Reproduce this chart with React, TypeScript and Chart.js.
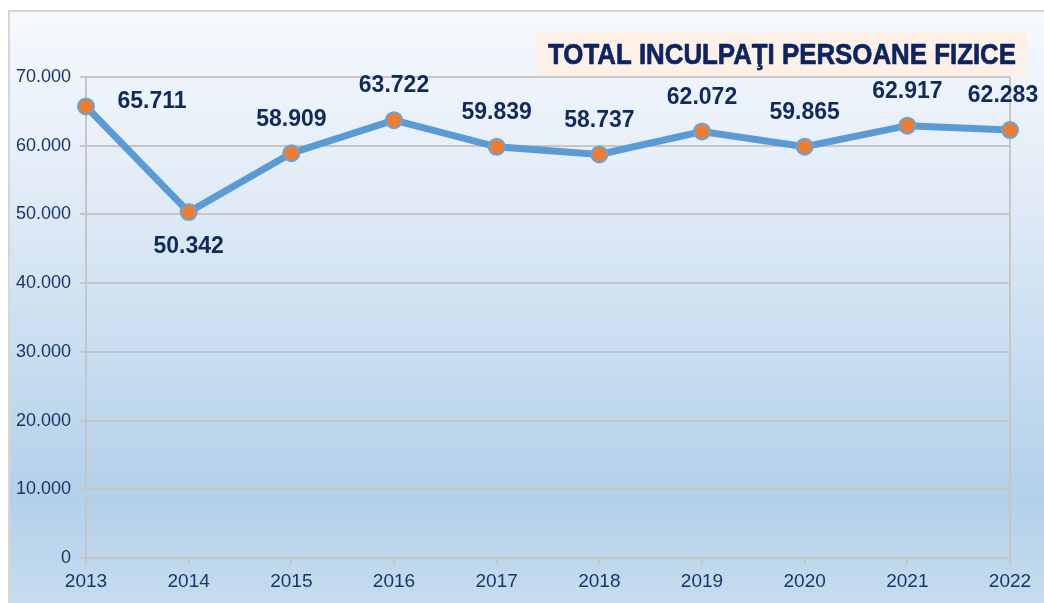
import React, { useEffect, useRef } from "react";
import { Chart, registerables } from "chart.js";

Chart.register(...registerables);

const years = ["2013", "2014", "2015", "2016", "2017", "2018", "2019", "2020", "2021", "2022"];
const inculpati = [65711, 50342, 58909, 63722, 59839, 58737, 62072, 59865, 62917, 62283];
const valueLabels = ["65.711", "50.342", "58.909", "63.722", "59.839", "58.737", "62.072", "59.865", "62.917", "62.283"];
const titleText = "TOTAL INCULPAŢI PERSOANE FIZICE";

const NAVY = "#112a5e";
const TITLE_NAVY = "#0c2463";
const TICK_NAVY = "#1a356a";
const GRID = "#c6c6c6";

const bgPlugin = {
  id: "bgPlugin",
  beforeDraw(chart: any) {
    const { ctx, width, height } = chart;
    ctx.save();
    ctx.fillStyle = "#ffffff";
    ctx.fillRect(0, 0, width, height);
    const g = ctx.createLinearGradient(0, 11, 0, height);
    g.addColorStop(0, "#f6f9fd");
    g.addColorStop(0.25, "#e6eef8");
    g.addColorStop(0.55, "#cbdff0");
    g.addColorStop(0.82, "#b3d0ea");
    g.addColorStop(1, "#c6dcef");
    ctx.fillStyle = g;
    ctx.fillRect(9, 11, width - 9, height - 11);
    ctx.strokeStyle = "#d6d6d6";
    ctx.lineWidth = 2;
    ctx.beginPath();
    ctx.moveTo(9, height);
    ctx.lineTo(9, 11);
    ctx.lineTo(width, 11);
    ctx.stroke();
    ctx.restore();
  },
};

const overlayPlugin = {
  id: "overlayPlugin",
  afterDraw(chart: any) {
    const { ctx } = chart;
    ctx.save();
    // title box
    ctx.fillStyle = "#fdf1e7";
    ctx.fillRect(537, 32, 489, 43);
    ctx.font = "bold 30px 'Liberation Sans Narrow', 'Arial Narrow', 'Liberation Sans', Arial, sans-serif";
    ctx.fillStyle = TITLE_NAVY;
    ctx.strokeStyle = TITLE_NAVY;
    ctx.lineWidth = 0.7;
    ctx.lineJoin = "round";
    ctx.textBaseline = "alphabetic";
    ctx.textAlign = "left";
    const w = ctx.measureText(titleText).width;
    const target = 468;
    ctx.translate(548, 64);
    ctx.scale(target / w, 1);
    ctx.fillText(titleText, 0, 0);
    ctx.strokeText(titleText, 0, 0);
    ctx.restore();

    // data labels
    const meta = chart.getDatasetMeta(0);
    ctx.save();
    ctx.font = "bold 23px 'Liberation Sans', Arial, sans-serif";
    ctx.fillStyle = NAVY;
    ctx.textAlign = "center";
    ctx.textBaseline = "middle";
    meta.data.forEach((pt: any, i: number) => {
      let dx = 0;
      let dy = -34;
      if (i === 0) {
        dx = 66;
        dy = -5;
      } else if (i === 1) {
        dy = 35;
      } else if (i === meta.data.length - 1) {
        dx = -7;
      }
      ctx.fillText(valueLabels[i], pt.x + dx, pt.y + dy);
    });
    ctx.restore();
  },
};

export default function App() {
  const ref = useRef<HTMLCanvasElement>(null);
  useEffect(() => {
    if (!ref.current) return;
    const chart = new Chart(ref.current, {
      type: "line",
      data: {
        labels: years,
        datasets: [
          {
            data: inculpati,
            borderColor: "#5b9bd5",
            borderWidth: 7,
            pointRadius: 8,
            pointBackgroundColor: "#ed7d31",
            pointBorderColor: "#6aa3d8",
            pointBorderWidth: 2,
            tension: 0,
            clip: false as any,
          },
        ],
      },
      options: {
        responsive: false,
        animation: false,
        events: [],
        layout: { padding: { left: 0, right: 34, top: 77, bottom: 0 } },
        plugins: { legend: { display: false }, title: { display: false }, tooltip: { enabled: false } },
        scales: {
          x: {
            offset: false,
            grid: {
              display: true,
              drawOnChartArea: true,
              color: (c: any) => (c.index === years.length - 1 ? GRID : "rgba(0,0,0,0)"),
              tickColor: GRID,
              tickLength: 6,
              lineWidth: 2,
            },
            border: { display: true, color: GRID, width: 2 },
            ticks: {
              color: TICK_NAVY,
              font: { family: "'Liberation Sans', Arial, sans-serif", size: 19 },
              padding: 6,
              maxRotation: 0,
              autoSkip: false,
            },
            afterFit: (s: any) => {
              s.height = 45;
            },
          },
          y: {
            min: 0,
            max: 70000,
            ticks: {
              stepSize: 10000,
              color: TICK_NAVY,
              font: { family: "'Liberation Sans', Arial, sans-serif", size: 18 },
              padding: 9,
              callback: (v: any) => (Number(v) === 0 ? "0" : Number(v).toLocaleString("de-DE")),
            },
            grid: { color: GRID, lineWidth: 2, tickLength: 6, tickColor: GRID },
            border: { display: true, color: GRID, width: 2 },
            afterFit: (s: any) => {
              s.width = 86;
            },
          },
        },
      },
      plugins: [bgPlugin, overlayPlugin],
    });
    return () => chart.destroy();
  }, []);
  return (
    <div style={{ position: "fixed", left: 0, top: 0, width: 1044, height: 603 }}>
      <canvas ref={ref} width={1044} height={603} style={{ display: "block" }} />
    </div>
  );
}
